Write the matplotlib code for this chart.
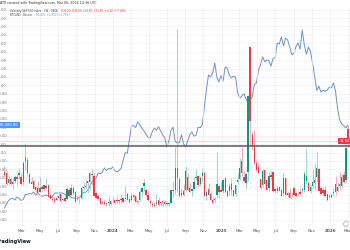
import matplotlib
matplotlib.use('Agg')
import matplotlib.pyplot as plt
import matplotlib.dates as mdates
from matplotlib.patches import Ellipse
from matplotlib.ticker import FuncFormatter
import numpy as np
import pandas as pd

# ---------------- data ----------------
weeks = pd.date_range('2023-01-02', periods=166, freq='W-MON')

vix_open = [
    # 2023
    22.0, 21.9, 18.9, 19.9, 19.2, 19.4, 20.7, 21.1, 20.7, 19.1, 26.5, 25.9, 21.5, 19.2, 19.4, 17.5, 17.2, 16.1,
    17.6, 18.2, 17.4, 18.1, 15.0, 14.0, 13.8, 14.1, 14.1, 15.3, 13.6, 14.2, 13.9, 16.8, 15.0, 17.3, 15.9, 14.1,
    14.0, 14.2, 17.3, 17.9, 18.9, 19.2, 21.3, 20.9, 15.6, 14.8, 14.2, 13.0, 13.1, 12.8, 12.6, 13.3,
    # 2024
    13.2, 13.6, 13.5, 13.3, 13.6, 14.2, 13.9, 15.3, 14.0, 13.6, 15.2, 14.7, 13.1, 13.5, 16.1, 17.9, 16.6, 15.1,
    13.3, 12.4, 12.1, 12.3, 13.5, 12.7, 12.9, 13.1, 12.8, 12.5, 12.8, 16.6, 16.8, 23.4, 20.0, 15.2, 16.3, 16.5,
    20.5, 17.2, 16.4, 17.1, 20.4, 20.8, 18.4, 21.0, 21.8, 14.9, 17.0, 15.5, 13.5, 13.5, 15.0, 17.8, 16.5,
    # 2025
    16.4, 20.4, 16.2, 17.9, 18.6, 16.5, 15.4, 19.0, 19.9, 25.5, 20.6, 18.9, 22.0, 60.1, 33.5, 30.0, 25.0, 23.6,
    19.9, 18.1, 22.7, 19.6, 17.3, 21.2, 22.2, 16.9, 17.4, 17.6, 16.8, 15.6, 20.3, 15.8, 15.6, 15.4, 17.2, 15.8,
    15.3, 15.9, 16.6, 16.6, 19.4, 18.9, 16.4, 18.0, 18.8, 20.6, 23.0, 17.2, 16.6, 16.6, 15.4, 14.5,
    # 2026
    15.0, 15.8, 18.6, 16.3, 18.4, 18.0, 21.3, 19.6, 35.2,
]
vix_high = [
    23.8, 22.3, 21.0, 20.6, 20.0, 21.3, 21.4, 23.2, 21.7, 25.4, 30.8, 26.8, 21.8, 20.7, 19.6, 17.8, 19.4, 20.7,
    18.1, 18.3, 20.4, 18.3, 15.4, 15.0, 14.4, 15.2, 16.2, 15.4, 14.1, 15.3, 17.7, 17.3, 18.6, 18.0, 16.3, 15.1,
    14.6, 17.8, 19.1, 19.9, 19.4, 22.0, 23.1, 21.8, 16.4, 15.2, 14.3, 13.4, 13.8, 13.1, 14.7, 13.4,
    14.7, 13.8, 14.9, 13.9, 15.4, 14.3, 17.9, 16.1, 14.4, 15.6, 15.5, 14.8, 13.6, 16.9, 17.6, 19.9, 17.2, 16.2,
    13.7, 12.9, 13.1, 15.4, 14.5, 13.2, 13.6, 13.6, 13.1, 12.9, 16.6, 19.4, 29.7, 65.7, 20.7, 17.3, 18.4, 23.8,
    21.9, 18.9, 17.3, 20.7, 23.0, 21.3, 20.9, 23.2, 22.5, 16.6, 18.8, 15.9, 14.2, 14.6, 28.3, 18.2, 19.2,
    19.6, 20.7, 16.3, 18.7, 20.4, 16.8, 18.3, 21.9, 26.4, 29.6, 22.5, 21.9, 45.6, 60.1, 34.5, 34.8, 25.9, 25.1,
    20.0, 22.9, 22.7, 19.6, 22.0, 22.5, 22.5, 17.1, 17.9, 18.0, 16.9, 21.9, 20.4, 16.0, 17.2, 15.9, 17.9, 16.0,
    16.3, 17.5, 17.3, 22.4, 29.0, 19.1, 18.1, 22.9, 25.0, 28.3, 23.2, 17.6, 17.7, 17.8, 15.5, 15.3,
    15.6, 17.2, 20.9, 19.0, 22.0, 21.8, 22.5, 29.9, 36.5,
]
vix_low = [
    20.9, 18.3, 18.1, 18.1, 17.1, 18.7, 18.2, 19.9, 18.1, 18.3, 22.6, 21.0, 18.6, 18.4, 16.9, 16.1, 15.7, 15.9,
    16.1, 16.3, 17.1, 14.5, 13.8, 13.4, 12.7, 13.5, 13.9, 12.9, 13.2, 13.0, 13.6, 14.6, 14.9, 15.3, 13.0, 13.6,
    12.7, 13.9, 16.6, 17.0, 15.8, 16.9, 18.3, 14.9, 14.1, 13.6, 12.4, 12.5, 12.1, 11.8, 11.8, 12.0,
    12.6, 12.4, 12.8, 12.4, 12.6, 12.6, 13.3, 13.5, 12.7, 13.3, 13.6, 12.9, 12.5, 13.4, 14.6, 16.3, 14.7, 13.3,
    12.1, 11.5, 11.5, 11.9, 11.9, 11.9, 11.9, 11.9, 11.9, 11.9, 12.6, 14.6, 15.3, 15.9, 14.5, 14.6, 14.9, 16.0,
    16.4, 15.9, 14.9, 16.8, 19.8, 17.5, 17.8, 19.5, 14.9, 13.6, 15.2, 13.5, 12.7, 12.8, 14.3, 14.3, 15.9,
    15.7, 15.8, 14.6, 15.1, 15.2, 14.7, 14.9, 18.6, 19.8, 20.8, 19.2, 16.9, 19.5, 30.0, 29.0, 24.6, 22.3, 21.5,
    17.0, 17.6, 18.1, 16.6, 16.2, 19.6, 16.1, 15.7, 15.7, 16.2, 14.7, 15.0, 15.1, 14.4, 14.2, 14.6, 15.0, 14.6,
    14.9, 15.1, 15.7, 15.9, 18.5, 16.3, 15.6, 17.2, 17.1, 19.0, 16.2, 15.4, 14.8, 14.9, 13.4, 13.8,
    14.2, 14.8, 15.1, 15.9, 16.8, 17.2, 18.9, 19.2, 29.6,
]
vix_close = [
    21.13, 18.35, 19.85, 18.51, 18.33, 20.53, 20.02, 21.67, 18.49, 24.80, 25.51, 21.74, 18.70, 18.40, 17.07,
    16.77, 15.78, 17.19, 17.03, 16.81, 17.95, 14.60, 13.83, 13.54, 13.44, 13.59, 14.83, 13.34, 13.60, 13.33,
    17.10, 14.84, 17.30, 15.68, 13.09, 13.84, 13.79, 17.20, 17.52, 17.45, 19.32, 21.71, 21.27, 14.91, 14.17,
    13.80, 12.46, 12.63, 12.35, 12.28, 13.03, 12.45,
    13.35, 12.70, 13.30, 13.26, 13.85, 12.93, 14.24, 13.75, 13.11, 14.74, 14.41, 13.06, 13.01, 16.03, 17.31,
    18.71, 15.03, 13.49, 12.55, 11.99, 11.93, 12.92, 12.22, 12.66, 13.20, 12.44, 12.48, 12.46, 16.52, 16.39,
    23.39, 20.37, 14.80, 15.86, 15.00, 22.38, 16.56, 16.15, 16.96, 19.21, 20.46, 18.03, 20.33, 21.88, 14.94,
    16.14, 15.24, 13.51, 12.77, 13.81, 18.36, 15.95, 16.13,
    19.54, 15.97, 14.85, 16.43, 16.54, 14.77, 18.21, 19.63, 23.37, 21.77, 19.28, 21.65, 45.31, 37.56, 29.65,
    24.84, 22.68, 21.90, 17.24, 22.29, 18.57, 16.77, 20.82, 20.62, 16.32, 16.38, 16.40, 16.41, 14.93, 20.38,
    15.15, 15.09, 14.22, 15.36, 15.18, 14.76, 15.45, 15.29, 16.65, 21.66, 20.78, 16.37, 17.44, 19.08, 19.83,
    23.43, 16.35, 15.41, 15.74, 14.91, 13.60, 14.51,
    14.49, 15.86, 16.09, 17.44, 17.76, 20.60, 19.10, 29.40, 31.50,
]
btc_close_k = [
    17.0, 19.5, 21.5, 22.5, 22.8, 21.8, 23.6, 22.8, 21.5, 22.0, 25.0, 25.2, 25.5, 25.3, 26.5, 24.8, 25.6, 25.0,
    24.0, 24.2, 24.8, 24.3, 23.2, 23.6, 25.8, 26.0, 25.9, 26.0, 25.8, 25.2, 24.8, 25.0, 23.2, 23.0, 22.9, 22.8,
    23.4, 24.6, 26.3, 26.4, 27.7, 29.8, 32.5, 33.5, 34.8, 37.8, 37.5, 38.4, 40.8, 39.2, 40.6, 40.2,
    41.4, 39.2, 38.4, 39.4, 40.5, 45.4, 50.0, 49.6, 57.5, 65.8, 66.0, 65.0, 68.2, 66.5, 64.6, 62.8, 61.0, 59.0,
    58.7, 62.6, 64.5, 63.4, 65.3, 63.0, 60.5, 58.7, 53.3, 57.2, 63.4, 65.0, 56.5, 55.7, 55.8, 60.5, 55.2, 53.3,
    57.0, 60.5, 62.3, 59.8, 60.2, 65.0, 64.8, 66.4, 77.1, 87.5, 96.2, 95.0, 97.4, 103.3, 95.0, 92.0, 95.8,
    92.5, 100.9, 100.2, 96.0, 94.4, 95.5, 94.8, 85.5, 82.5, 83.6, 85.0, 82.0, 79.5, 81.5, 83.1, 90.5, 91.4, 99.0,
    102.5, 106.9, 104.0, 105.1, 104.6, 101.5, 106.0, 106.5, 115.2, 114.5, 118.8, 113.5, 118.0, 117.0, 112.8,
    108.1, 109.0, 113.0, 115.2, 111.5, 123.0, 114.0, 108.5, 112.8, 110.0, 103.0, 95.0, 87.0, 89.5, 86.0, 87.2,
    86.5, 87.0, 89.0,
    88.5, 91.4, 86.5, 76.0, 69.4, 67.0, 66.0, 64.6, 66.4,
]
vix_level_line = 30

tick_dates = ['2023-03-01', '2023-05-01', '2023-07-01', '2023-09-01', '2023-11-01', '2024-01-01',
              '2024-03-01', '2024-05-01', '2024-07-01', '2024-09-01', '2024-11-01', '2025-01-01',
              '2025-03-01', '2025-05-01', '2025-07-01', '2025-09-01', '2025-11-01', '2026-01-01',
              '2026-03-01']
tick_labels = ['Mar', 'May', 'Jul', 'Sep', 'Nov', '2024', 'Mar', 'May', 'Jul', 'Sep', 'Nov', '2025',
               'Mar', 'May', 'Jul', 'Sep', 'Nov', '2026', 'Mar']

# ---------------- figure ----------------
UP = '#089981'
DN = '#F23645'
UP_WICK = '#8fd0c5'
DN_WICK = '#f7a3aa'
BLUE = '#6d92cc'
GRID = '#eef0f4'

fig = plt.figure(figsize=(3.5, 2.5), dpi=100)
fig.patch.set_facecolor('white')
ax = fig.add_axes([0.0, 0.096, 1.0, 0.876])
ax2 = ax.twinx()
ax.set_zorder(2)
ax2.set_zorder(1)
ax.patch.set_visible(False)

x = mdates.date2num(weeks)
o = np.array(vix_open)
h = np.array(vix_high)
l = np.array(vix_low)
c = np.array(vix_close)
up = c >= o
colors = np.where(up, UP, DN)
wick_colors = np.where(up, UP_WICK, DN_WICK)

ax.vlines(x, l, h, colors=wick_colors, lw=0.6, zorder=2)
ax.bar(x, np.maximum(np.abs(c - o), 0.2), bottom=np.minimum(o, c), width=4.5,
       color=colors, linewidth=0, zorder=3)

ax2.plot(x, np.array(btc_close_k) * 1000, color=BLUE, lw=0.7)

ax.axhline(vix_level_line, color='#5a5a5a', lw=1.1, zorder=5)
ax.axhline(c[-1], color=DN, lw=0.4, alpha=0.35, zorder=4)

ax.set_xlim(mdates.date2num(pd.Timestamp('2022-12-18')),
            mdates.date2num(pd.Timestamp('2026-03-08 16:00')))
ax.set_ylim(5.7, 72.3)
ax2.set_ylim(6300, 136600)

ax.set_xticks(mdates.date2num(pd.to_datetime(tick_dates)))
ax.set_xticklabels(tick_labels)
for t, lab in zip(ax.get_xticklabels(), tick_labels):
    if lab.isdigit():
        t.set_fontweight('bold')
ax.tick_params(axis='x', length=0, pad=2.2, labelsize=3.0, labelcolor='#555555')
ax.tick_params(axis='y', left=False, right=False, labelleft=False, labelright=False)
ax.grid(axis='x', color=GRID, lw=0.5)

ax2.set_yticks(np.arange(10000, 136000, 5000))
ax2.yaxis.set_major_formatter(FuncFormatter(lambda v, p: f"{v:.2f}"))
ax2.yaxis.tick_left()
ax2.tick_params(axis='y', length=0, pad=-5, labelsize=2.6, labelcolor='#777777')
ax2.grid(axis='y', color=GRID, lw=0.5)

for a in (ax, ax2):
    for s in a.spines.values():
        s.set_visible(False)

# price labels
btc_last = btc_close_k[-1] * 1000
ax.text(0.0, btc_last, f"{btc_last:,.2f}", transform=ax2.get_yaxis_transform(), ha='left', va='center',
        fontsize=2.6, color='white', zorder=10,
        bbox=dict(boxstyle='square,pad=0.35', fc='#5b8ff9', ec='none'))
ax.text(1.0, c[-1], f"{c[-1]:.2f}", transform=ax.get_yaxis_transform(), ha='right', va='center',
        fontsize=2.6, color='white', zorder=10,
        bbox=dict(boxstyle='square,pad=0.35', fc=DN, ec='none'))

# header texts
fig.text(0.0, 1 - 3 / 250, 'ATR created with TradingView.com, Mar 06, 2026 14:36 UTC',
         fontsize=2.3, color='#333333', va='center')
fig.text(10 / 350, 1 - 11 / 250, 'Volatility S&P 500 Index · 1W · CBOE', fontsize=1.9,
         color='#444444', va='center')
fig.text(61 / 350, 1 - 11 / 250, 'O35.20  H36.50  L29.60  C31.50  +2.10 (+7.14%)', fontsize=1.9,
         color=DN, va='center')
fig.text(10 / 350, 1 - 15 / 250, 'BTCUSD · Bitcoin', fontsize=1.9, color='#444444', va='center')
fig.text(36 / 350, 1 - 15 / 250, '66,400  +1,800 (+2.79%)', fontsize=1.9, color=BLUE, va='center')

fig.text(-3 / 350, 1 - 242 / 250, 'TradingView', fontsize=3.6, fontweight='bold',
         color='#131722', va='center')
fig.add_artist(Ellipse((346 / 350, 1 - 224 / 250), 5 / 350, 5 / 250, transform=fig.transFigure,
                       fill=False, ec='#a0a3ab', lw=0.5))

fig.savefig('out.png', dpi=100, facecolor='white')
